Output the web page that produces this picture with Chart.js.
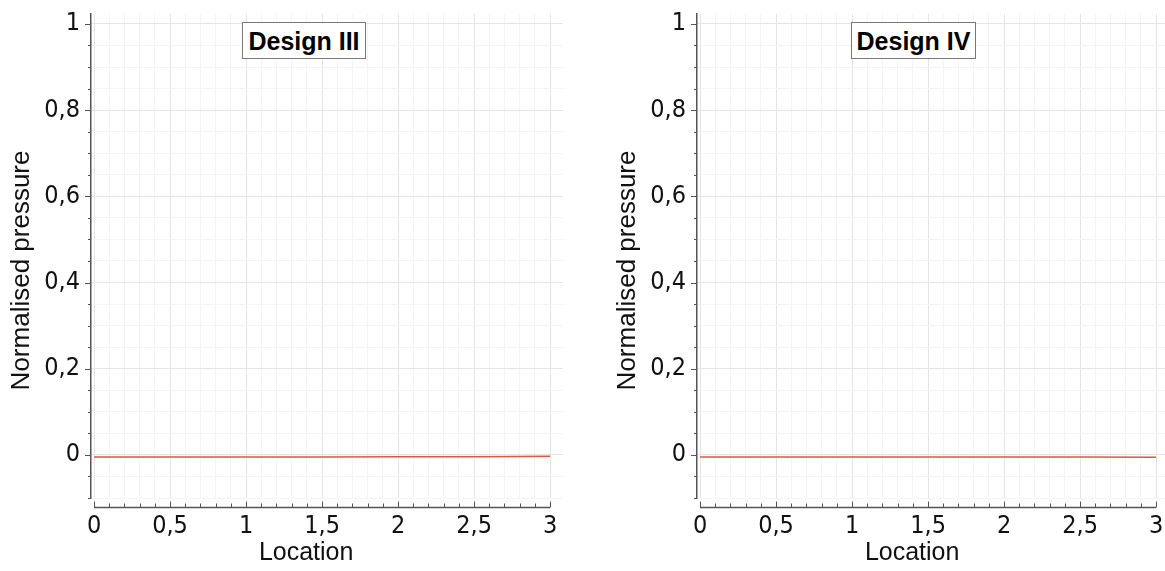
<!DOCTYPE html>
<html>
<head>
<meta charset="utf-8">
<script src="https://cdn.jsdelivr.net/npm/chart.js@4.4.1/dist/chart.umd.min.js"></script>
<style>
  html, body { margin: 0; padding: 0; background: #fff; width: 1165px; height: 571px; overflow: hidden; }
  .wrap { position: absolute; top: 0; width: 608px; height: 571px; }
  .ttl { position: absolute; top: 22px; height: 35px; border: 1px solid #777; background: #fff;
         font: bold 25px "Liberation Sans", Arial, sans-serif; color: #000; text-align: center; line-height: 36px; }
</style>
</head>
<body>
<div class="wrap" style="left:0px"><canvas id="c1" width="608" height="571"></canvas></div>
<div class="wrap" style="left:606px"><canvas id="c2" width="608" height="571"></canvas></div>
<div class="ttl" style="left:242px; width:122px;">Design III</div>
<div class="ttl" style="left:851px; width:123px;">Design IV</div>
<script>
// ---- data ----
const locations = [0, 0.5, 1, 1.5, 2, 2.5, 3];
const designIII = [-0.005, -0.005, -0.005, -0.005, -0.0045, -0.004, -0.003];
const designIV  = [-0.005, -0.005, -0.005, -0.005, -0.005, -0.005, -0.0055];
const xTickValues = [0, 0.5, 1, 1.5, 2, 2.5, 3];
const yTickValues = [0, 0.2, 0.4, 0.6, 0.8, 1];
const panelTitles = ['Design III', 'Design IV'];
const xAxisTitle = 'Location';
const yAxisTitle = 'Normalised pressure';

const tickFont = { family: "'DejaVu Sans Condensed', 'DejaVu Sans', sans-serif", size: 25 };
const xTitleFont = { family: "'Liberation Sans', Arial, sans-serif", size: 25 };
const yTitleFont = { family: "'Liberation Sans', Arial, sans-serif", size: 26 };

function near(v, list) { return list.some(t => Math.abs(t - v) < 1e-6); }
function fmt(v) { return String(Math.round(v * 10) / 10).replace('.', ','); }

const decor = {
  id: 'decor',
  afterDraw(chart) {
    const ctx = chart.ctx, xs = chart.scales.x, ys = chart.scales.y, a = chart.chartArea;
    ctx.save();
    ctx.strokeStyle = '#555';
    ctx.lineWidth = 1;
    // y tick marks
    for (let i = -2; i <= 20; i++) {
      const v = i * 0.05;
      const p = Math.round(ys.getPixelForValue(v)) + 0.5;
      const len = near(v, yTickValues) ? 6 : 3;
      ctx.beginPath(); ctx.moveTo(a.left - len, p); ctx.lineTo(a.left, p); ctx.stroke();
    }
    // detached x axis line
    const y0 = a.bottom + 9.5;
    ctx.lineWidth = 1.5;
    ctx.beginPath();
    ctx.moveTo(xs.getPixelForValue(0), y0); ctx.lineTo(xs.getPixelForValue(3), y0); ctx.stroke();
    ctx.lineWidth = 1;
    for (let i = 0; i <= 30; i++) {
      const v = i * 0.1;
      const p = Math.round(xs.getPixelForValue(v)) + 0.5;
      const len = near(v, xTickValues) ? 6 : 4;
      ctx.beginPath(); ctx.moveTo(p, y0); ctx.lineTo(p, y0 - len); ctx.stroke();
    }
    ctx.restore();
  }
};

function makeChart(id, values) {
  return new Chart(document.getElementById(id), {
    type: 'line',
    data: {
      datasets: [{
        data: locations.map((x, i) => ({ x: x, y: values[i] })),
        borderColor: '#e2553f',
        borderWidth: 1.5,
        pointRadius: 0,
        tension: 0,
        fill: false
      }]
    },
    options: {
      responsive: false,
      devicePixelRatio: 1,
      animation: false,
      layout: { padding: { top: 14, right: 45, left: 0, bottom: 0 } },
      plugins: { legend: { display: false }, tooltip: { enabled: false }, title: { display: false } },
      scales: {
        x: {
          type: 'linear',
          min: -0.02, max: 3.085,
          afterBuildTicks(s) {
            const t = [];
            for (let i = 0; i <= 30; i++) t.push({ value: i / 10 });
            s.ticks = t;
          },
          afterFit(s) { s.height = 73; s.paddingLeft = 0; s.paddingRight = 0; },
          border: { display: false },
          grid: {
            drawTicks: false,
            color: c => near(c.tick.value, xTickValues) ? '#e5e5e5' : '#f4f4f4',
            lineWidth: 1
          },
          ticks: {
            autoSkip: false, maxRotation: 0, padding: 13,
            color: '#111', font: tickFont,
            callback: v => near(v, xTickValues) ? fmt(v) : ''
          },
          title: { display: true, text: xAxisTitle + '      ', color: '#111', font: xTitleFont, padding: { top: 0, bottom: 3 } }
        },
        y: {
          type: 'linear',
          min: -0.1, max: 1.023,
          afterBuildTicks(s) {
            const t = [];
            for (let i = -2; i <= 20; i++) t.push({ value: i * 0.05 });
            s.ticks = t;
          },
          afterFit(s) { s.width = 91; s.paddingTop = 0; s.paddingBottom = 0; },
          border: { display: true, color: '#555', width: 1.5 },
          grid: {
            drawTicks: false,
            color: c => near(c.tick.value, yTickValues) ? '#e5e5e5' : '#f4f4f4',
            lineWidth: 1
          },
          ticks: {
            autoSkip: false, padding: 11,
            color: '#111', font: tickFont,
            callback: v => near(v, yTickValues) ? fmt(v) : ''
          },
          title: { display: true, text: yAxisTitle + '    ', color: '#111', font: yTitleFont, padding: { top: 6, bottom: 0 } }
        }
      }
    },
    plugins: [decor]
  });
}

makeChart('c1', designIII);
makeChart('c2', designIV);
</script>
</body>
</html>
